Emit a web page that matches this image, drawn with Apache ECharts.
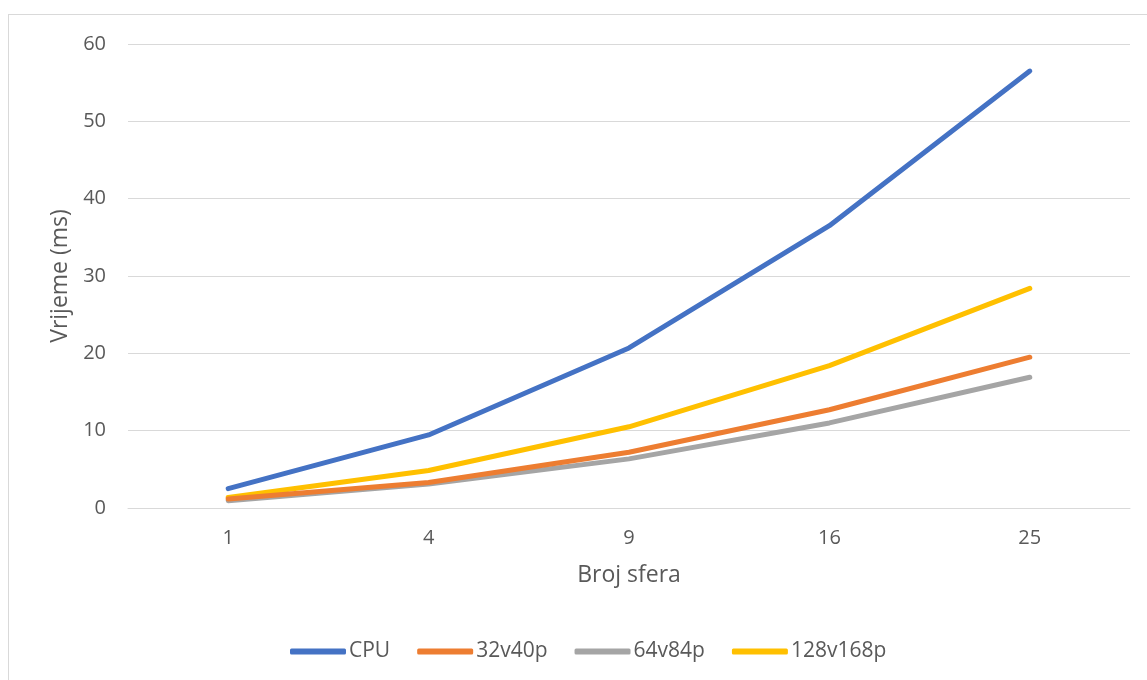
<!DOCTYPE html>
<html>
<head>
<meta charset="utf-8">
<script src="https://cdn.jsdelivr.net/npm/echarts@6/dist/echarts.min.js"></script>
<style>
  html, body { margin: 0; padding: 0; background: #fff; }
  #frame { position: absolute; left: 8px; top: 14px; width: 1160px; height: 700px; border: 1px solid #d9d9d9; box-sizing: border-box; }
  #chart { position: absolute; left: 0; top: 0; width: 1147px; height: 680px; }
</style>
</head>
<body>
<div id="frame"></div>
<div id="chart"></div>
<script>
const categories = ['1', '4', '9', '16', '25'];
const cpu = [2.5, 9.45, 20.7, 36.5, 56.5];
const s32v40p = [1.15, 3.3, 7.2, 12.7, 19.5];
const s64v84p = [0.95, 3.1, 6.35, 11.0, 16.9];
const s128v168p = [1.35, 4.85, 10.5, 18.4, 28.4];
const seriesNames = ['CPU', '32v40p', '64v84p', '128v168p'];
const colors = ['#4472C4', '#ED7D31', '#A5A5A5', '#FFC000'];
const yTicks = { min: 0, max: 60, interval: 10 };

const font = '"Open Sans", Lato, sans-serif';
const chart = echarts.init(document.getElementById('chart'));
const dataSets = [cpu, s32v40p, s64v84p, s128v168p];
const drawOrder = [3, 2, 1, 0];

chart.setOption({
  animation: false,
  color: colors,
  textStyle: { fontFamily: font, color: '#595959' },
  grid: { left: 128, right: 17, top: 44, bottom: 172, containLabel: false },
  legend: {
    left: 285, top: 636,
    icon: 'roundRect',
    itemWidth: 56, itemHeight: 6,
    itemGap: 27,
    data: seriesNames,
    textStyle: { fontFamily: font, fontSize: 21, color: '#595959', padding: [0, 0, 0, -2] }
  },
  xAxis: {
    type: 'category',
    data: categories,
    boundaryGap: true,
    name: 'Broj sfera',
    nameLocation: 'middle',
    nameGap: 56,
    nameTextStyle: { fontFamily: font, fontSize: 23, color: '#595959' },
    axisLine: { lineStyle: { color: '#d9d9d9', width: 1 } },
    axisTick: { show: false },
    axisLabel: { fontFamily: font, fontSize: 20, color: '#595959', margin: 20 }
  },
  yAxis: {
    type: 'value',
    min: yTicks.min, max: yTicks.max, interval: yTicks.interval,
    name: 'Vrijeme (ms)',
    nameLocation: 'middle',
    nameGap: 55,
    nameRotate: 90,
    nameTextStyle: { fontFamily: font, fontSize: 23, color: '#595959' },
    axisLine: { show: false },
    axisTick: { show: false },
    axisLabel: { fontFamily: font, fontSize: 20, color: '#595959', margin: 22 },
    splitLine: { lineStyle: { color: '#d9d9d9', width: 1 } }
  },
  series: drawOrder.map(i => ({
    name: seriesNames[i],
    type: 'line',
    data: dataSets[i],
    symbol: 'none',
    smooth: false,
    z: 10 - i,
    lineStyle: { width: 5, color: colors[i], cap: 'round', join: 'round' },
    itemStyle: { color: colors[i] }
  }))
});
</script>
</body>
</html>
